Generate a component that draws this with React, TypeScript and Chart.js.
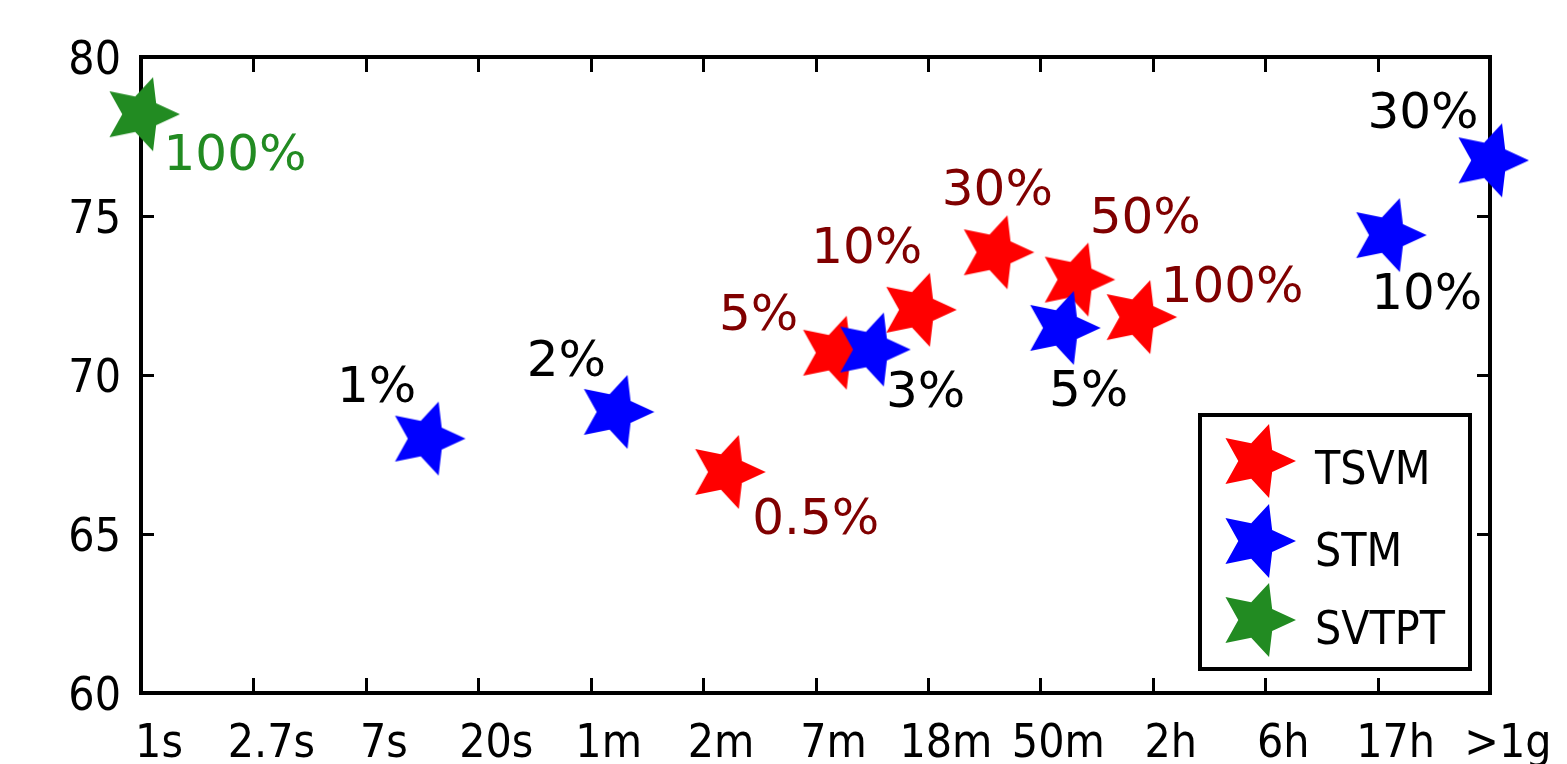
import { useEffect, useRef } from 'react';
import { Chart, registerables } from 'chart.js';

Chart.register(...registerables);

// ---- data ----
const timeLabels = ['1s', '2.7s', '7s', '20s', '1m', '2m', '7m', '18m', '50m', '2h', '6h', '17h', '>1g'];
const seriesNames = ['TSVM', 'STM', 'SVTPT'];

const tsvmX = [5.21, 6.17, 6.91, 7.6, 8.32, 8.87];
const tsvmY = [66.95, 70.7, 72.05, 73.86, 73.0, 71.82];
const tsvmText = ['0.5%', '5%', '10%', '30%', '50%', '100%'];

const stmX = [2.54, 4.22, 6.5, 8.19, 11.09, 12.0];
const stmY = [68.0, 68.84, 70.8, 71.48, 74.4, 76.75];
const stmText = ['1%', '2%', '3%', '5%', '10%', '30%'];

const svtptX = [0];
const svtptY = [78.2];
const svtptText = ['100%'];

// ---- styling (label offsets relative to the marker, in px) ----
const tsvmOffsets = [[89, 44], [-76, -41], [-51, -65], [2, -65], [69, -65], [94, -33]];
const stmOffsets = [[-50, -55], [-49, -54], [54, 39], [27, 60], [39, 56], [-67, -50]];
const svtptOffsets = [[94, 38]];

const COLORS = ['#ff0000', '#0000ff', '#228b22'];
const LABEL_COLORS = ['#800000', '#000000', '#228b22'];
const TICK_FONT = '"DejaVu Sans Condensed", "DejaVu Sans", sans-serif';
const LABEL_FONT = '"DejaVu Sans", sans-serif';

function makeStar(color: string, r: number, inner: number): HTMLCanvasElement {
  const size = Math.ceil(2 * r + 4);
  const c = document.createElement('canvas');
  c.width = size;
  c.height = size;
  const ctx = c.getContext('2d')!;
  const cx = size / 2;
  const cy = size / 2;
  ctx.beginPath();
  for (let k = 0; k < 10; k++) {
    const ang = (k * 36 * Math.PI) / 180;
    const rad = k % 2 === 0 ? r : r * inner;
    const x = cx + rad * Math.cos(ang);
    const y = cy + rad * Math.sin(ang);
    if (k === 0) ctx.moveTo(x, y);
    else ctx.lineTo(x, y);
  }
  ctx.closePath();
  ctx.fillStyle = color;
  ctx.fill();
  return c;
}

export default function App() {
  const ref = useRef<HTMLCanvasElement | null>(null);

  useEffect(() => {
    if (!ref.current) return;
    const stars = COLORS.map((c) => makeStar(c, 39, 0.48));
    const offsets = [tsvmOffsets, stmOffsets, svtptOffsets];
    const texts = [tsvmText, stmText, svtptText];

    const framePlugin = {
      id: 'frame',
      beforeDatasetsDraw(chart: any) {
        const { ctx, chartArea: ca, scales } = chart;
        ctx.save();
        ctx.strokeStyle = '#000';
        ctx.lineWidth = 3;
        ctx.lineCap = 'butt';
        for (let i = 1; i < timeLabels.length - 1; i++) {
          const px = Math.round(scales.x.getPixelForValue(i)) + 0.5;
          ctx.beginPath();
          ctx.moveTo(px, ca.bottom);
          ctx.lineTo(px, ca.bottom - 15);
          ctx.moveTo(px, ca.top);
          ctx.lineTo(px, ca.top + 15);
          ctx.stroke();
        }
        for (let v = 65; v < 80; v += 5) {
          const py = Math.round(scales.y.getPixelForValue(v)) + 0.5;
          ctx.beginPath();
          ctx.moveTo(ca.left, py);
          ctx.lineTo(ca.left + 13, py);
          ctx.moveTo(ca.right, py);
          ctx.lineTo(ca.right - 13, py);
          ctx.stroke();
        }
        ctx.lineWidth = 4;
        ctx.strokeRect(ca.left, ca.top, ca.right - ca.left, ca.bottom - ca.top);
        ctx.restore();
      },
      afterDatasetsDraw(chart: any) {
        const { ctx } = chart;
        ctx.save();
        ctx.font = `50px ${LABEL_FONT}`;
        ctx.textAlign = 'center';
        ctx.textBaseline = 'alphabetic';
        chart.data.datasets.forEach((_ds: any, di: number) => {
          const meta = chart.getDatasetMeta(di);
          ctx.fillStyle = LABEL_COLORS[di];
          meta.data.forEach((el: any, i: number) => {
            const [dx, dy] = offsets[di][i];
            ctx.fillText(texts[di][i], el.x + dx, el.y + dy + 18);
          });
        });
        ctx.restore();
      },
      afterDraw(chart: any) {
        const { ctx, chartArea: ca } = chart;
        const w = 270;
        const h = 254;
        const left = ca.right - 20 - w;
        const top = ca.bottom - 24 - h;
        ctx.save();
        ctx.fillStyle = '#fff';
        ctx.fillRect(left, top, w, h);
        ctx.strokeStyle = '#000';
        ctx.lineWidth = 4;
        ctx.strokeRect(left, top, w, h);
        const starY = [46, 126, 205];
        const textY = [52, 134, 212];
        ctx.font = `46px ${TICK_FONT}`;
        ctx.textAlign = 'left';
        ctx.textBaseline = 'alphabetic';
        ctx.fillStyle = '#000';
        seriesNames.forEach((name, i) => {
          const s = stars[i];
          ctx.drawImage(s, left + 57 - s.width / 2, top + starY[i] - s.height / 2);
          ctx.fillText(name, left + 115, top + textY[i] + 17);
        });
        ctx.restore();
      },
    };

    const chart = new Chart(ref.current, {
      type: 'scatter',
      data: {
        datasets: [
          {
            label: seriesNames[0],
            data: tsvmX.map((x, i) => ({ x, y: tsvmY[i] })),
            pointStyle: stars[0] as any,
            pointRadius: 39,
            backgroundColor: COLORS[0],
            borderColor: COLORS[0],
            clip: false as any,
            order: 3,
          },
          {
            label: seriesNames[1],
            data: stmX.map((x, i) => ({ x, y: stmY[i] })),
            pointStyle: stars[1] as any,
            pointRadius: 39,
            backgroundColor: COLORS[1],
            borderColor: COLORS[1],
            clip: false as any,
            order: 2,
          },
          {
            label: seriesNames[2],
            data: svtptX.map((x, i) => ({ x, y: svtptY[i] })),
            pointStyle: stars[2] as any,
            pointRadius: 39,
            backgroundColor: COLORS[2],
            borderColor: COLORS[2],
            clip: false as any,
            order: 1,
          },
        ],
      },
      options: {
        animation: false,
        responsive: true,
        maintainAspectRatio: false,
        events: [],
        layout: { padding: { top: 57, right: 77, left: 0, bottom: 0 } },
        plugins: { legend: { display: false }, tooltip: { enabled: false } },
        scales: {
          x: {
            type: 'linear',
            min: 0,
            max: timeLabels.length - 1,
            afterFit: (s: any) => {
              s.height = 71;
            },
            afterBuildTicks: (s: any) => {
              s.ticks = timeLabels.map((_, i) => ({ value: i }));
            },
            ticks: {
              autoSkip: false,
              maxRotation: 0,
              labelOffset: 18,
              padding: 24,
              color: '#000',
              font: { family: TICK_FONT, size: 46 },
              callback: (v: any) => timeLabels[Math.round(Number(v))],
            },
            grid: { display: false, drawTicks: false },
            border: { display: false },
          },
          y: {
            min: 60,
            max: 80,
            afterFit: (s: any) => {
              s.width = 141;
            },
            ticks: {
              stepSize: 5,
              padding: 20,
              labelOffset: 5,
              color: '#000',
              font: { family: TICK_FONT, size: 46 },
            },
            grid: { display: false, drawTicks: false },
            border: { display: false },
          },
        },
      },
      plugins: [framePlugin],
    });
    return () => chart.destroy();
  }, []);

  return (
    <div style={{ position: 'fixed', left: 0, top: 0, width: 1567, height: 764, background: '#fff' }}>
      <canvas ref={ref} />
    </div>
  );
}
